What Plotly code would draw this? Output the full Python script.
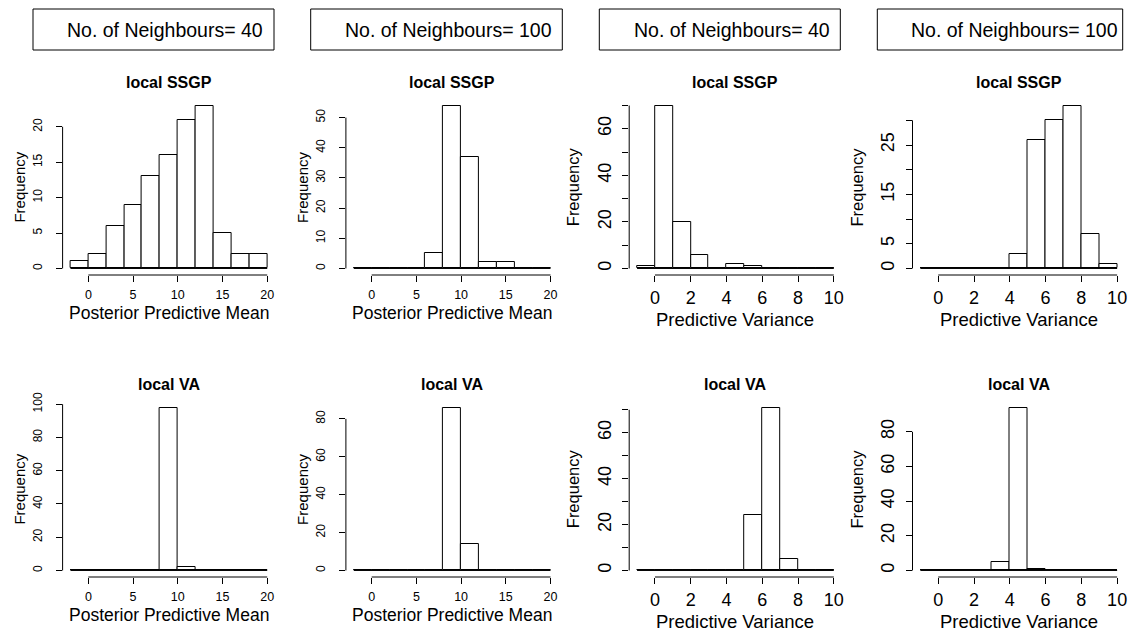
import plotly.graph_objects as go

# ---------------- data ----------------
mean_breaks = [-2, 0, 2, 4, 6, 8, 10, 12, 14, 16, 18, 20]
var_breaks = [-1, 0, 1, 2, 3, 4, 5, 6, 7, 8, 9, 10]

ssgp40_mean_counts = [1, 2, 6, 9, 13, 16, 21, 23, 5, 2, 2]
ssgp100_mean_counts = [0, 0, 0, 0, 5, 54, 37, 2, 2, 0, 0]
ssgp40_var_counts = [1, 70, 20, 6, 0, 2, 1, 0, 0, 0, 0]
ssgp100_var_counts = [0, 0, 0, 0, 0, 3, 26, 30, 33, 7, 1]
va40_mean_counts = [0, 0, 0, 0, 0, 98, 2, 0, 0, 0, 0]
va100_mean_counts = [0, 0, 0, 0, 0, 86, 14, 0, 0, 0, 0]
va40_var_counts = [0, 0, 0, 0, 0, 0, 24, 71, 5, 0, 0]
va100_var_counts = [0, 0, 0, 0, 5, 94, 1, 0, 0, 0, 0]

mean_xticks = [0, 5, 10, 15, 20]
var_xticks = [0, 2, 4, 6, 8, 10]

yticks_ssgp40_mean = [0, 5, 10, 15, 20]
ylabels_ssgp40_mean = ["0", "5", "10", "15", "20"]
yticks_ssgp100_mean = [0, 10, 20, 30, 40, 50]
ylabels_ssgp100_mean = ["0", "10", "20", "30", "40", "50"]
yticks_ssgp40_var = [0, 10, 20, 30, 40, 50, 60, 70]
ylabels_ssgp40_var = ["0", "", "20", "", "40", "", "60", ""]
yticks_ssgp100_var = [0, 5, 10, 15, 20, 25, 30]
ylabels_ssgp100_var = ["0", "5", "", "15", "", "25", ""]
yticks_va40_mean = [0, 20, 40, 60, 80, 100]
ylabels_va40_mean = ["0", "20", "40", "60", "80", "100"]
yticks_va100_mean = [0, 20, 40, 60, 80]
ylabels_va100_mean = ["0", "20", "40", "60", "80"]
yticks_va40_var = [0, 10, 20, 30, 40, 50, 60, 70]
ylabels_va40_var = ["0", "", "20", "", "40", "", "60", ""]
yticks_va100_var = [0, 20, 40, 60, 80]
ylabels_va100_var = ["0", "20", "40", "60", "80"]

panel_titles = ["local SSGP"] * 4 + ["local VA"] * 4
box_labels = ["No. of Neighbours= 40", "No. of Neighbours= 100",
              "No. of Neighbours= 40", "No. of Neighbours= 100"]
mean_label = "Posterior Predictive Mean"
var_label = "Predictive Variance"

panels = [
    (mean_breaks, ssgp40_mean_counts, mean_xticks, yticks_ssgp40_mean, ylabels_ssgp40_mean, mean_label),
    (mean_breaks, ssgp100_mean_counts, mean_xticks, yticks_ssgp100_mean, ylabels_ssgp100_mean, mean_label),
    (var_breaks, ssgp40_var_counts, var_xticks, yticks_ssgp40_var, ylabels_ssgp40_var, var_label),
    (var_breaks, ssgp100_var_counts, var_xticks, yticks_ssgp100_var, ylabels_ssgp100_var, var_label),
    (mean_breaks, va40_mean_counts, mean_xticks, yticks_va40_mean, ylabels_va40_mean, mean_label),
    (mean_breaks, va100_mean_counts, mean_xticks, yticks_va100_mean, ylabels_va100_mean, mean_label),
    (var_breaks, va40_var_counts, var_xticks, yticks_va40_var, ylabels_va40_var, var_label),
    (var_breaks, va100_var_counts, var_xticks, yticks_va100_var, ylabels_va100_var, var_label),
]

# ---------------- layout constants (pixels) ----------------
W, H = 1131, 632
col_left = [62.6, 345.9, 629.2, 912.5]
col_width = 212.5
row_top = [99, 401]
row_height = 176
box_x = [(33, 274), (310.7, 562.3), (599.3, 840.3), (877.3, 1122.7)]
box_text_right = [265, 554, 832, 1120]
FONT = "Liberation Sans, Arial, Helvetica, sans-serif"


def px(x):
    return x / W


def py(y):
    return 1 - y / H


fig = go.Figure()
annotations = []
shapes = []
layout = {}

for k, (breaks, counts, xticks, yticks, ylabels, xlabel) in enumerate(panels):
    r, c = divmod(k, 4)
    n = k + 1
    xa = "x" if n == 1 else f"x{n}"
    ya = "y" if n == 1 else f"y{n}"
    big = c >= 2
    left = col_left[c]
    top = row_top[r]
    bottom = top + row_height

    widths = [breaks[i + 1] - breaks[i] for i in range(len(counts))]
    centers = [(breaks[i] + breaks[i + 1]) / 2 for i in range(len(counts))]

    # baseline (zero-count bins drawn as a flat line, like R's hist)
    fig.add_trace(go.Scatter(x=[breaks[0], breaks[-1]], y=[0, 0], mode="lines",
                             line=dict(color="black", width=1), xaxis=xa, yaxis=ya,
                             showlegend=False, hoverinfo="skip"))
    fig.add_trace(go.Bar(x=centers, y=counts, width=widths,
                         marker=dict(color="white", line=dict(color="black", width=1)),
                         xaxis=xa, yaxis=ya, showlegend=False))

    span = breaks[-1] - breaks[0]
    ymax = max(counts)
    tick_fs_x = 18 if big else 12.5
    tick_fs_y = 18 if big else 12
    layout["xaxis" if n == 1 else f"xaxis{n}"] = dict(
        domain=[px(left), px(left + col_width)], anchor=ya, automargin=False,
        range=[breaks[0] - 0.04 * span, breaks[-1] + 0.04 * span],
        showgrid=False, zeroline=False, showline=False,
        tickmode="array", tickvals=xticks, ticktext=[str(t) for t in xticks],
        ticks="outside", ticklen=6, tickwidth=1, tickcolor="black",
        tickfont=dict(size=tick_fs_x, color="black", family=FONT),
        ticklabelstandoff=0 if big else 2,
    )
    layout["yaxis" if n == 1 else f"yaxis{n}"] = dict(
        domain=[py(bottom), py(top)], anchor=xa, automargin=False,
        range=[-0.04 * ymax, 1.04 * ymax],
        showgrid=False, zeroline=False, showline=False,
        tickmode="array", tickvals=yticks, ticktext=ylabels,
        ticks="outside", ticklen=6, tickwidth=1, tickcolor="black",
        tickangle=-90,
        tickfont=dict(size=tick_fs_y, color="black", family=FONT),
        ticklabelstandoff=4 if big else 9,
    )
    xref = xa
    yref = ya
    # R-style axis lines from first to last tick
    shapes.append(dict(type="line", xref=xref, yref=f"{yref} domain",
                       x0=xticks[0], x1=xticks[-1], y0=0, y1=0,
                       line=dict(color="black", width=1)))
    shapes.append(dict(type="line", xref=f"{xref} domain", yref=yref,
                       x0=0, x1=0, y0=yticks[0], y1=yticks[-1],
                       line=dict(color="black", width=1)))

    cx = left + col_width / 2
    # panel title
    annotations.append(dict(text=f"<b>{panel_titles[k]}</b>", x=px(cx), y=py(top - 17),
                            xref="paper", yref="paper", showarrow=False,
                            xanchor="center", yanchor="middle",
                            font=dict(size=16, color="black", family=FONT)))
    # y label
    fx = left - (56 if big else 44)
    annotations.append(dict(text="Frequency", x=px(fx), y=py(top + row_height / 2),
                            xref="paper", yref="paper", showarrow=False, textangle=-90,
                            xanchor="center", yanchor="middle",
                            font=dict(size=16.5 if big else 15, color="black", family=FONT)))
    # x label
    annotations.append(dict(text=xlabel, x=px(cx), y=py(bottom + (44 if big else 38)),
                            xref="paper", yref="paper", showarrow=False,
                            xanchor="center", yanchor="middle",
                            font=dict(size=18.5 if big else 17.5, color="black", family=FONT)))

# legend-like boxes on top row
for c in range(4):
    x0, x1 = box_x[c]
    shapes.append(dict(type="rect", xref="paper", yref="paper",
                       x0=px(x0), x1=px(x1), y0=py(50), y1=py(9),
                       line=dict(color="black", width=1), fillcolor="white", layer="below"))
    annotations.append(dict(text=box_labels[c], x=px(box_text_right[c]), y=py(30),
                            xref="paper", yref="paper", showarrow=False,
                            xanchor="right", yanchor="middle",
                            font=dict(size=19.5, color="black", family=FONT)))

fig.update_layout(
    template="none",
    width=W, height=H,
    margin=dict(l=0, r=0, t=0, b=0, pad=0),
    paper_bgcolor="white", plot_bgcolor="white",
    showlegend=False, bargap=0,
    annotations=annotations, shapes=shapes,
    font=dict(family=FONT, color="black"),
    **layout,
)

fig.write_html("out.html")
